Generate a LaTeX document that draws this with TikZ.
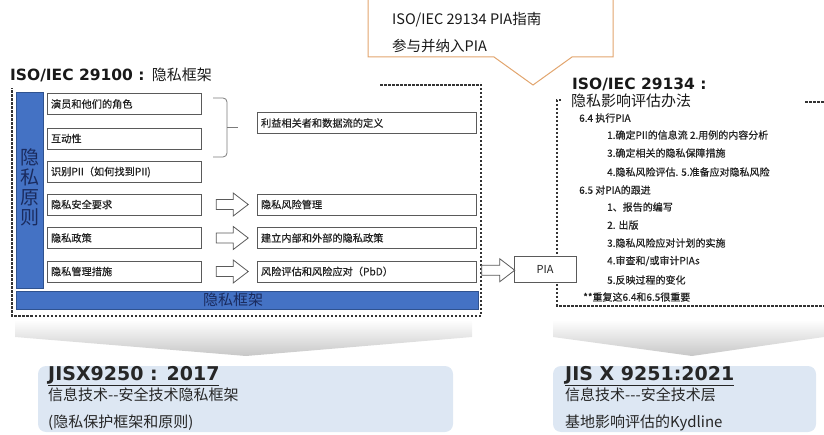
\documentclass[tikz,border=0pt]{standalone}
\usepackage{fontspec}
\setmainfont{Noto Sans CJK SC}
\newfontfamily\vb{DejaVu Sans}
\newfontfamily\cjkm{Noto Sans CJK SC}[FakeBold=0.5]
\usetikzlibrary{shapes.arrows,calc}
\definecolor{barblue}{HTML}{4472C4}
\definecolor{barline}{HTML}{2F528F}
\definecolor{navy}{HTML}{1A2B5E}
\definecolor{boxline}{HTML}{5A5A5A}
\definecolor{calline}{HTML}{E2A56E}
\definecolor{jisblue}{HTML}{DDE7F3}
\definecolor{txt}{HTML}{222222}
\begin{document}
\begin{tikzpicture}[x=1pt,y=-1pt,
  lbox/.style={draw=boxline, line width=0.8pt, fill=white, minimum height=21pt, text width=146pt, inner xsep=4pt, inner ysep=0pt, align=left, font=\cjkm\fontsize{10.2}{12}\selectfont, text=txt},
  rbox/.style={lbox, text width=211pt},
  barrow/.style={single arrow, draw=boxline, fill=white, line width=0.8pt, minimum height=32pt, minimum width=23pt, single arrow head extend=6.5pt, inner sep=4.5pt, single arrow tip angle=75},
  dsh/.style={draw=black!80, line width=1.1pt, dash pattern=on 2.5pt off 1.5pt},
  lst/.style={anchor=west, inner sep=0pt, text=txt, font=\cjkm\fontsize{10}{11}\selectfont},
  ttl/.style={anchor=west, inner sep=0pt, text=black!90},
  jis/.style={anchor=west, inner sep=0pt, text=black!85}
]
\useasboundingbox (0,0) rectangle (824,435);

% bottom chevrons
\shade[top color=white, bottom color=black!22] (15,320) -- (472,320) -- (472,337) -- (246,356) -- (15,337) -- cycle;
\shade[top color=white, bottom color=black!22] (553,320) -- (824,320) -- (824,337) -- (692,356) -- (553,337) -- cycle;

% bottom boxes
\fill[jisblue, rounded corners=8pt] (38,366) rectangle (453,432);
\fill[jisblue, rounded corners=8pt] (553,366) rectangle (816,432);
\node[jis] (j1) at (48,376) {\vb\bfseries\fontsize{19}{21}\selectfont\underline{JISX9250 : 2017}};
\node[jis] (j1a) at (48,395) {\fontsize{15}{17}\selectfont 信息技术-{}-安全技术隐私框架};
\node[jis] (j1b) at (48,423) {\fontsize{15}{17}\selectfont (隐私保护框架和原则)};
\node[jis] (j2) at (565,376) {\vb\bfseries\fontsize{19}{21}\selectfont\underline{JIS X 9251:2021}};
\node[jis] (j2a) at (565,395) {\fontsize{15}{17}\selectfont 信息技术-{}-{}-安全技术层};
\node[jis] (j2b) at (565,423) {\fontsize{15}{17}\selectfont 基地影响评估的Kydline};

% dashed frames
\draw[dsh] (380,85) -- (481,85) -- (481,316) -- (12,316) -- (12,88);
\draw[dsh] (561,100) -- (557,100) -- (557,306) -- (824,306);
\draw[dsh] (805,102) -- (824,102);

% titles
\node[ttl] (t1) at (10,75) {{\vb\bfseries\fontsize{15.5}{17}\selectfont ISO/IEC 29100 : }{\fontsize{15}{17}\selectfont 隐私框架}};
\node[ttl] (t2) at (572,84) {{\vb\bfseries\fontsize{15.5}{17}\selectfont ISO/IEC 29134 :}};
\node[ttl] (t3) at (571,101) {\fontsize{15}{17}\selectfont 隐私影响评估办法};

% callout
\draw[calline, line width=1pt, fill=white] (368,-3) -- (613,-3) -- (613,57) -- (572,57) -- (533,85) -- (494,57) -- (368,57) -- cycle;
\node[ttl] (c1) at (392,20) {\fontsize{14.5}{16}\selectfont ISO/IEC 29134 PIA指南};
\node[ttl] (c2) at (392,46) {\fontsize{14.5}{16}\selectfont 参与并纳入PIA};

% blue bars
\draw[barline, fill=barblue, line width=0.8pt] (16,92) rectangle (43,288);
\draw[barline, fill=barblue, line width=0.8pt] (16,291) rectangle (478,309);
\node[text=navy, align=center, inner sep=0pt, font=\fontsize{19}{20}\selectfont] (v) at (29.5,187) {隐\\私\\原\\则};
\node[text=navy, inner sep=0pt, font=\fontsize{15}{17}\selectfont] (h) at (233,300) {隐私框架};

% left boxes
\node[lbox] (l1) at (124,104) {演员和他们的角色};
\node[lbox] (l2) at (124,138.5) {互动性};
\node[lbox] (l3) at (124,172) {识别PII（如何找到PII)};
\node[lbox] (l4) at (124,204.5) {隐私安全要求};
\node[lbox] (l5) at (124,238) {隐私政策};
\node[lbox] (l6) at (124,271.5) {隐私管理措施};

% right boxes
\node[rbox] (r1) at (366.5,123) {利益相关者和数据流的定义};
\node[rbox] (r2) at (366.5,204.5) {隐私风险管理};
\node[rbox] (r3) at (366.5,238) {建立内部和外部的隐私政策};
\node[rbox] (r4) at (366.5,271.5) {风险评估和风险应对（PbD）};

% brace
\draw[boxline!80, line width=0.8pt, rounded corners=4pt] (213,98) -- (227,98) -- (227,157) -- (213,157);
\draw[boxline!80, line width=0.8pt] (227,127) -- (238,127);

% PIA
\node[draw=boxline, line width=0.8pt, fill=white, minimum width=62pt, minimum height=26pt, font=\fontsize{11}{13}\selectfont, text=txt] (pia) at (545,269) {PIA};

% block arrows
\node[barrow] (a1) at ($(l4.east)!0.5!(r2.west)$) {};
\node[barrow] (a2) at ($(l5.east)!0.5!(r3.west)$) {};
\node[barrow] (a3) at ($(l6.east)!0.5!(r4.west)$) {};
\node[barrow, minimum height=33pt] (a4) at ($(r4.east)!0.5!(pia.west)$) {};

% right list
\node[lst] (p1) at (579,118) {6.4 执行PIA};
\node[lst] (p2) at (607,135) {1.确定PII的信息流 2.用例的内容分析};
\node[lst] (p3) at (607,153) {3.确定相关的隐私保障措施};
\node[lst] (p4) at (607,172) {4.隐私风险评估. 5.准备应对隐私风险};
\node[lst] (p5) at (579,190) {6.5 对PIA的跟进};
\node[lst] (p6) at (607,207) {1、报告的编写};
\node[lst] (p7) at (607,225) {2. 出版};
\node[lst] (p8) at (607,243) {3.隐私风险应对计划的实施};
\node[lst] (p9) at (607,261) {4.审查和/或审计PIAs};
\node[lst] (p10) at (607,280) {5.反映过程的变化};
\node[lst] (p11) at (583,297) {**重复这6.4和6.5很重要};
\end{tikzpicture}
\end{document}
